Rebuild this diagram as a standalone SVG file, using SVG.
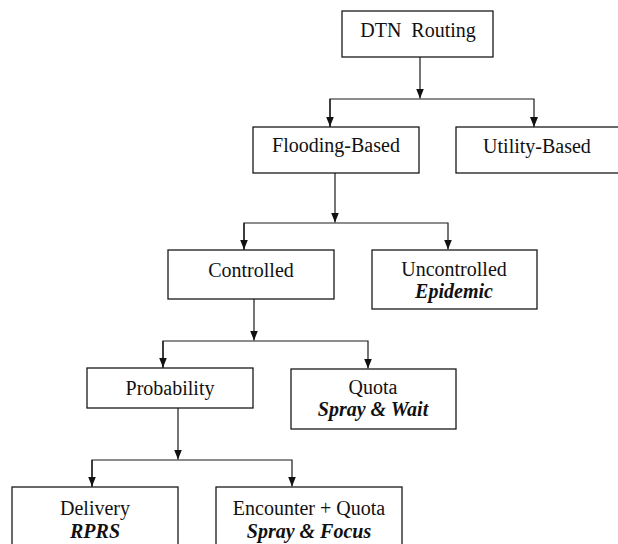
<svg xmlns="http://www.w3.org/2000/svg" width="618" height="544" viewBox="0 0 618 544">
<defs>
<style>
.box{fill:#fff;stroke:#1a1a1a;stroke-width:1.3}
.c{fill:none;stroke:#1a1a1a;stroke-width:1.2}
</style>
<marker id="a" markerUnits="userSpaceOnUse" markerWidth="10" markerHeight="10" viewBox="0 0 10 10" refX="10" refY="5" orient="auto">
<path d="M0,1 L10,5 L0,9 Z" fill="#111"/>
</marker>
</defs>
<g id="connectors">
<path class="c" d="M420,57 V98.5" marker-end="url(#a)"/>
<path class="c" d="M330,127 V99 H534 V127" marker-end="url(#a)"/>
<path class="c" d="M330,99 V126.5" marker-end="url(#a)"/>
<path class="c" d="M335,173 V222.5" marker-end="url(#a)"/>
<path class="c" d="M244,250 V223 H448 V249.5" marker-end="url(#a)"/>
<path class="c" d="M244,223 V249.5" marker-end="url(#a)"/>
<path class="c" d="M254,299 V340.5" marker-end="url(#a)"/>
<path class="c" d="M163,368 V341 H368 V368.5" marker-end="url(#a)"/>
<path class="c" d="M163,341 V367.5" marker-end="url(#a)"/>
<path class="c" d="M178,408 V459.5" marker-end="url(#a)"/>
<path class="c" d="M92,487 V460 H292 V486.5" marker-end="url(#a)"/>
<path class="c" d="M92,460 V486.5" marker-end="url(#a)"/>
</g>
<g font-family="Liberation Serif" font-size="20" fill="#111" text-anchor="middle">
<g id="dtn-routing">
<rect class="box" x="342" y="11" width="151" height="46"/>
<text x="418" y="37" xml:space="preserve">DTN  Routing</text>
</g>
<g id="flooding-based">
<rect class="box" x="253" y="127" width="166" height="46"/>
<text x="336" y="152">Flooding-Based</text>
</g>
<g id="utility-based">
<rect class="box" x="456" y="127" width="166" height="46"/>
<text x="537" y="153">Utility-Based</text>
</g>
<g id="controlled">
<rect class="box" x="168" y="250" width="166" height="49"/>
<text x="251" y="277">Controlled</text>
</g>
<g id="uncontrolled">
<rect class="box" x="372" y="250" width="165" height="59"/>
<text x="454" y="276">Uncontrolled</text>
<text x="454" y="298" font-weight="bold" font-style="italic">Epidemic</text>
</g>
<g id="probability">
<rect class="box" x="87" y="368" width="166" height="40"/>
<text x="170" y="395">Probability</text>
</g>
<g id="quota">
<rect class="box" x="291" y="369" width="165" height="60"/>
<text x="373" y="394">Quota</text>
<text x="373" y="416" font-weight="bold" font-style="italic">Spray &amp; Wait</text>
</g>
<g id="delivery">
<rect class="box" x="12" y="487" width="166" height="70"/>
<text x="95" y="515">Delivery</text>
<text x="95" y="538" font-weight="bold" font-style="italic">RPRS</text>
</g>
<g id="encounter-quota">
<rect class="box" x="216" y="487" width="186" height="70"/>
<text x="309" y="515">Encounter + Quota</text>
<text x="309" y="538" font-weight="bold" font-style="italic">Spray &amp; Focus</text>
</g>
</g>
</svg>
